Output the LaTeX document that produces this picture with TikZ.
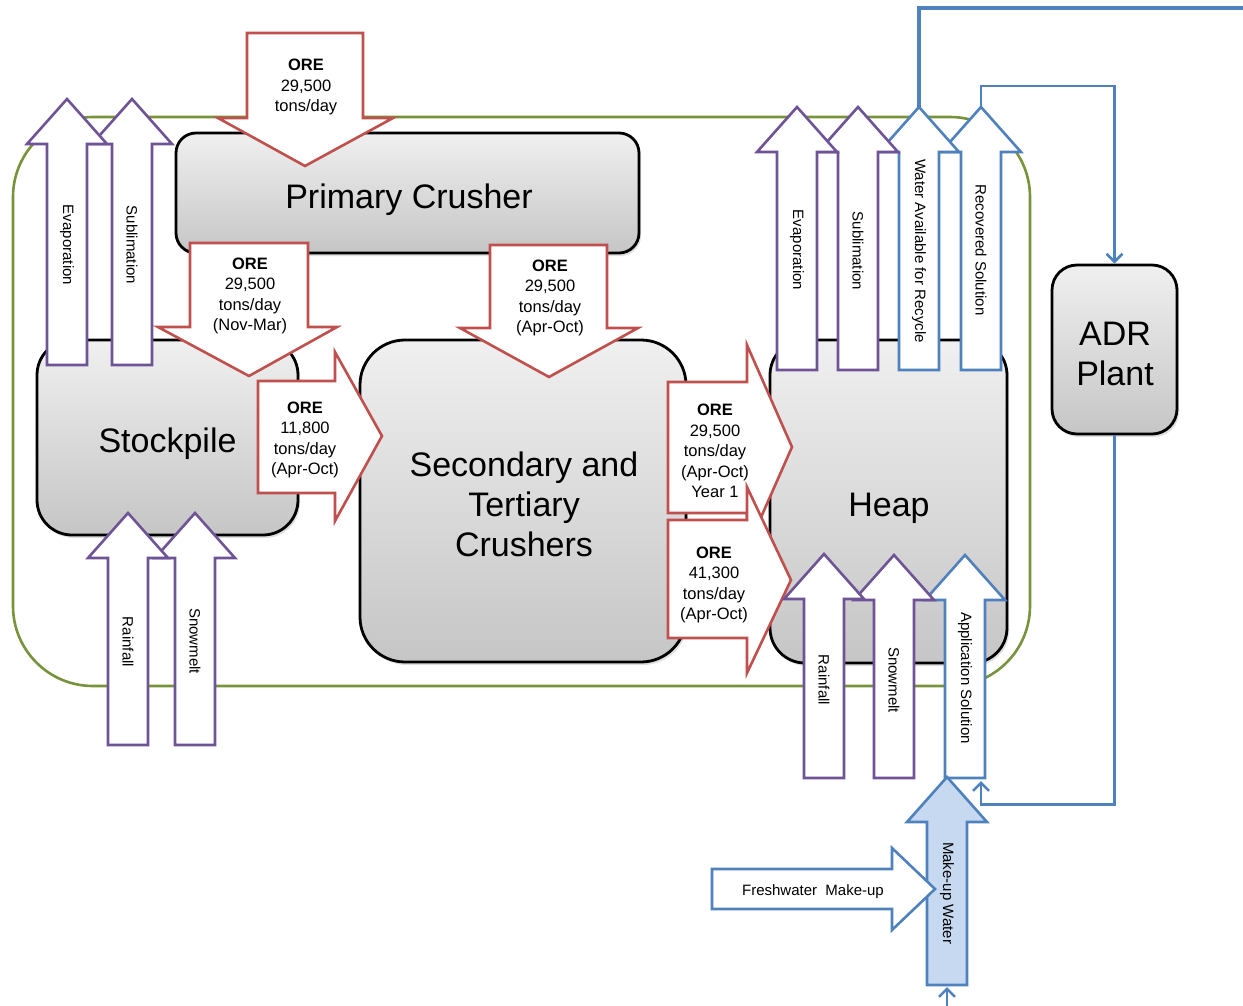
\documentclass[tikz,border=0pt]{standalone}
\usepackage{fontspec}
\setmainfont{Liberation Sans}
\usetikzlibrary{arrows.meta,shadows}
\definecolor{orered}{RGB}{192,80,77}
\definecolor{purp}{RGB}{110,84,150}
\definecolor{wblue}{RGB}{79,129,189}
\definecolor{lblue}{RGB}{198,217,241}
\definecolor{sitegreen}{RGB}{119,147,60}

% block arrow pointing down: style, shaft left, shaft right, top, head base, head left, head right, tip x, tip y
\newcommand\DnBlock[9]{\draw[#1] (#2,#4) -- (#3,#4) -- (#3,#5) -- (#7,#5) -- (#8,#9) -- (#6,#5) -- (#2,#5) -- cycle;}
% block arrow pointing right: style, shaft left, shaft top, shaft bottom, head base, head top, head bottom, tip x, tip y
\newcommand\RtBlock[9]{\draw[#1] (#2,#3) -- (#5,#3) -- (#5,#6) -- (#8,#9) -- (#5,#7) -- (#5,#4) -- (#2,#4) -- cycle;}
% block arrow pointing up: style, tip name, centre x, tip y, bottom y
\newcommand\UpBlock[5]{\draw[#1] (#3-20,#5) -- (#3-20,#4+45) -- (#3-40,#4+45) -- (#3,#4) -- (#3+40,#4+45) -- (#3+20,#4+45) -- (#3+20,#5) -- cycle;
  \coordinate (#2) at (#3,#4);}

\begin{document}
\begin{tikzpicture}[x=1pt,y=-1pt,
  box/.style={draw=black, line width=2.8pt, top color=gray!12, bottom color=gray!45,
    drop shadow={opacity=0.25,shadow xshift=2pt,shadow yshift=-3pt}, inner sep=0pt},
  boxtxt/.style={font=\fontsize{34}{40}\selectfont, align=center, inner sep=0pt},
  orearr/.style={draw=orered, line width=2.6pt, fill=white},
  purarr/.style={draw=purp, line width=2.6pt, fill=white},
  bluarr/.style={draw=wblue, line width=2.6pt, fill=white},
  mkarr/.style={draw=wblue, line width=2.6pt, fill=lblue},
  oretxt/.style={font=\fontsize{16.5}{20.5}\selectfont, align=center, inner sep=0pt},
  vtxt/.style={font=\fontsize{15}{18}\selectfont, rotate=-90, inner sep=0pt},
  conn/.style={draw=wblue, line width=2.6pt},
  tipend/.style={-{Straight Barb[length=8pt,width=16pt]}}
]
\useasboundingbox (0,0) rectangle (1243,1005);

% site boundary
\node[draw=sitegreen, line width=2.6pt, rounded corners=80pt, minimum width=1017pt, minimum height=569pt] (site) at (521.5,401.5) {};

% process units
\node[box, rounded corners=20pt, minimum width=463pt, minimum height=120pt] (pc) at (407.5,193) {};
\node[box, rounded corners=35pt, minimum width=261pt, minimum height=195pt] (sp) at (167.5,437.5) {};
\node[box, rounded corners=45pt, minimum width=326pt, minimum height=322pt] (stc) at (523,501) {};
\node[box, rounded corners=35pt, minimum width=237pt, minimum height=323pt] (heap) at (888.5,501.5) {};
\node[box, rounded corners=25pt, minimum width=125pt, minimum height=169pt] (adr) at (1114.5,349.5) {};
\node[boxtxt] (pcT) at (409,199.5) {Primary Crusher};
\node[boxtxt] (spT) at (167.5,443.5) {Stockpile};
\node[boxtxt] (stcT) at (524,504) {Secondary and\\Tertiary\\Crushers};
\node[boxtxt] (heapT) at (889,508.5) {Heap};
\node[boxtxt] (adrT) at (1115,353.5) {ADR\\Plant};

% ore flows
\DnBlock{orearr}{247}{363}{33}{118}{218}{393}{305}{166}
\DnBlock{orearr}{190}{308}{243}{327}{158}{337}{249}{376}
\DnBlock{orearr}{490}{607}{245}{328}{460}{638}{549}{377}
\RtBlock{orearr}{258}{381}{493}{335}{352}{521}{382}{436}
\RtBlock{orearr}{668}{382}{513}{747}{345}{549}{792}{447}
\RtBlock{orearr}{668}{520}{638}{747}{487}{673}{791}{580}

\node[oretxt] (ore1) at (306,87) {\textbf{ORE}\\29,500\\tons/day};
\node[oretxt] (ore2) at (250,296) {\textbf{ORE}\\29,500\\tons/day\\(Nov-Mar)};
\node[oretxt] (ore3) at (550,298) {\textbf{ORE}\\29,500\\tons/day\\(Apr-Oct)};
\node[oretxt] (ore4) at (305,440) {\textbf{ORE}\\11,800\\tons/day\\(Apr-Oct)};
\node[oretxt] (ore5) at (715,451) {\textbf{ORE}\\29,500\\tons/day\\(Apr-Oct)\\Year 1};
\node[oretxt] (ore6) at (714,585) {\textbf{ORE}\\41,300\\tons/day\\(Apr-Oct)};

% stockpile water balance
\UpBlock{purarr}{spSubTip}{132}{99}{365}
\UpBlock{purarr}{spEvaTip}{67}{99}{365}
\UpBlock{purarr}{spSnoTip}{195}{513}{745}
\UpBlock{purarr}{spRaiTip}{128}{513}{745}

% heap water balance
\UpBlock{bluarr}{recovTip}{981}{107}{370}
\UpBlock{bluarr}{recyTip}{919}{107}{370}
\UpBlock{purarr}{hpSubTip}{858}{107}{370}
\UpBlock{purarr}{hpEvaTip}{797}{107}{370}
\UpBlock{bluarr}{appTip}{965}{555}{778}
\UpBlock{purarr}{hpSnoTip}{894}{555}{778}
\UpBlock{purarr}{hpRaiTip}{824}{554}{778}

% make-up water
\draw[mkarr] (927,985) -- (927,822) -- (907,822) -- (947,777) -- (987,822) -- (967,822) -- (967,985) -- cycle;
\RtBlock{bluarr}{712}{869}{909}{892}{848}{930}{935}{889}

\node[vtxt] (lSpEva) at (67,245) {Evaporation};
\node[vtxt] (lSpSub) at (132,245) {Sublimation};
\node[vtxt] (lSpRai) at (128,642) {Rainfall};
\node[vtxt] (lSpSno) at (195,641) {Snowmelt};
\node[vtxt] (lHpEva) at (797,250) {Evaporation};
\node[vtxt] (lHpSub) at (858,251) {Sublimation};
\node[vtxt] (lRecy) at (919,251) {Water Available for Recycle};
\node[vtxt] (lRecov) at (981,250) {Recovered Solution};
\node[vtxt] (lHpRai) at (824,680) {Rainfall};
\node[vtxt] (lHpSno) at (894,680) {Snowmelt};
\node[vtxt] (lApp) at (965,678) {Application Solution};
\node[vtxt] (lMk) at (947,893) {Make-up Water};
\node[font=\fontsize{15}{18}\selectfont, inner sep=0pt] (lFw) at (813,892) {Freshwater\ \ Make-up};

% solution circuit
\coordinate (recyOut) at (1250,8);
\coordinate (appIn) at (981,781);
\coordinate (mkSrc) at (947,1012);
\coordinate (mkBase) at (947,987);
\draw[conn, line width=3.6pt] (recyTip) -- (recyTip |- recyOut) -- (recyOut);
\draw[conn,tipend] (recovTip) -- ++(0,-21) -| (adr.north);
\draw[conn,tipend] (adr.south) -- ++(0,369) -| (appIn);
\draw[conn,tipend] (mkSrc) -- (mkBase);
\end{tikzpicture}
\end{document}
